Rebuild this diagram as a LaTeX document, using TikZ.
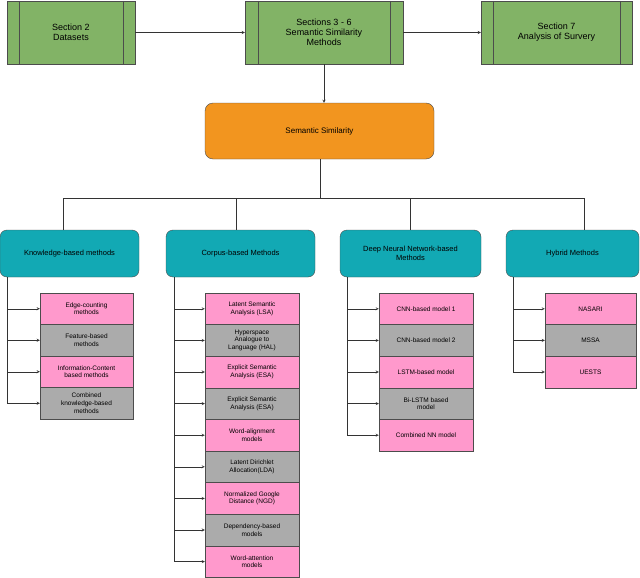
\documentclass[tikz,border=0pt]{standalone}
\usepackage{fontspec}
\setmainfont{Liberation Sans}
\begin{document}
\begin{tikzpicture}[x=1pt,y=-1pt,
 gbox/.style={draw=black!70,fill=green1,minimum height=63pt,align=center,font=\fontsize{9}{10}\selectfont,inner sep=0},
 obox/.style={draw=black!70,fill=orange1,rounded corners=8pt,minimum width=229pt,minimum height=56pt,font=\fontsize{8}{9.5}\selectfont},
 tbox/.style={draw=black!70,fill=teal1,rounded corners=7pt,minimum height=47pt,align=center,font=\fontsize{7.5}{9}\selectfont,inner sep=1pt},
 pk/.style={draw=black!70,fill=pink1,align=center,font=\fontsize{6.5}{7.8}\selectfont,inner sep=0},
 gy/.style={draw=black!70,fill=gray1,align=center,font=\fontsize{6.5}{7.8}\selectfont,inner sep=0},
 arr/.style={-stealth,black!80},
 ln/.style={black!80}]
\definecolor{green1}{HTML}{82B366}
\definecolor{orange1}{HTML}{F2951F}
\definecolor{teal1}{HTML}{12A9B4}
\definecolor{pink1}{HTML}{FF99CC}
\definecolor{gray1}{HTML}{ABABAB}
\useasboundingbox (0,0) rectangle (640,578);
% top
\node[gbox,minimum width=128pt] (s2) at (71,32.5) {Section 2\\Datasets};
\node[gbox,minimum width=158pt] (s36) at (324,32.5) {Sections 3 - 6\\Semantic Similarity\\Methods};
\node[gbox,minimum width=151pt] (s7) at (556.5,32.5) {Section 7\\Analysis of Survery};
\foreach \n/\d in {s2/12,s36/13,s7/12}{
 \draw[black!70] ([xshift=\d pt]\n.north west) -- ([xshift=\d pt]\n.south west);
 \draw[black!70] ([xshift=-\d pt]\n.north east) -- ([xshift=-\d pt]\n.south east);}
\draw[arr] (s2) -- (s36);
\draw[arr] (s36) -- (s7);
\node[obox] (ss) at (319.5,131) {Semantic Similarity};
\draw[arr] (s36) -- (ss.north -| s36);
% second level
\node[tbox,minimum width=139pt] (kb) at (69.5,253.5) {Knowledge-based methods};
\node[tbox,minimum width=149pt] (cb) at (240.5,253.5) {Corpus-based Methods};
\node[tbox,minimum width=141pt] (dn) at (410.5,253.5) {Deep Neural Network-based\\Methods};
\node[tbox,minimum width=133pt] (hy) at (572.5,253.5) {Hybrid Methods};
\coordinate (j) at (320,198);
\draw[ln] (ss.south -| j) -- (j);
\draw[ln] (63,230) -- (63,198) -- (584,198) -- (584,230);
\draw[ln] (236,198) -- (236,230);
\draw[ln] (410,198) -- (410,230);
% leaf lists
\newcommand{\leaflist}[6]{% parent, linex, boxleft, boxwidth, rowheight, list
 \foreach \t/\s [count=\i] in {#6}{
  \node[\s,minimum width=#4pt,minimum height=#5pt] (#1\i) at ({#3+#4/2},{293+(\i-0.5)*#5}) {\t};
  \draw[arr] (#2,{293+(\i-0.5)*#5}) -- (#1\i.west);
  \xdef\lastc{\i}}
 \draw[ln] (#2,277) -- (#2,{293+(\lastc-0.5)*#5});}
\leaflist{k}{7}{40}{93}{31.5}{{Edge-counting\\methods}/pk,{Feature-based\\methods}/gy,{Information-Content\\based methods}/pk,{Combined\\knowledge-based\\methods}/gy}
\leaflist{c}{174}{205}{94}{31.6}{{Latent Semantic\\Analysis (LSA)}/pk,{Hyperspace\\Analogue to\\Language (HAL)}/gy,{Explicit Semantic\\Analysis (ESA)}/pk,{Explicit Semantic\\Analysis (ESA)}/gy,{Word-alignment\\models}/pk,{Latent Dirichlet\\Allocation(LDA)}/gy,{Normalized Google\\Distance (NGD)}/pk,{Dependency-based\\models}/gy,{Word-attention\\models}/pk}
\leaflist{d}{347}{379}{94}{31.6}{{CNN-based model 1}/pk,{CNN-based model 2}/gy,{LSTM-based model}/pk,{Bi-LSTM based\\model}/gy,{Combined NN model}/pk}
\leaflist{h}{513}{545}{91}{31.6}{{NASARI}/pk,{MSSA}/gy,{UESTS}/pk}
\end{tikzpicture}
\end{document}
